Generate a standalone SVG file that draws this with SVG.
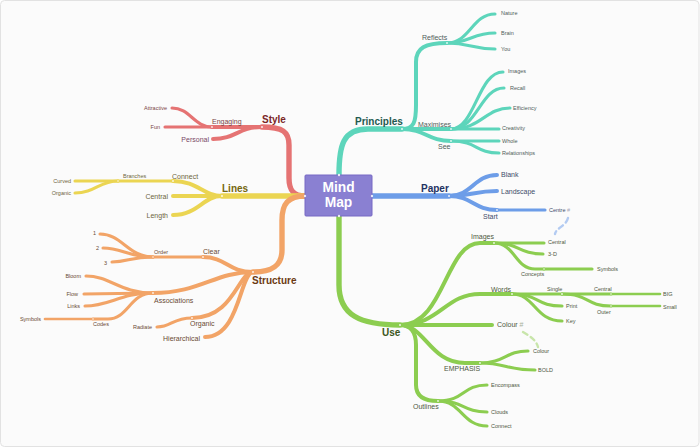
<svg xmlns="http://www.w3.org/2000/svg" width="700" height="448" viewBox="0 0 700 448">
<style>
.b{fill:none;stroke-linecap:round;stroke-linejoin:round}
.red{stroke:#e57373}.yel{stroke:#ebd552}.ora{stroke:#f2a467}.tea{stroke:#5dd5bb}.blu{stroke:#6d9de8}.grn{stroke:#8ccd50}
.l1{stroke-width:5.4}.l2{stroke-width:4}.l3{stroke-width:3.1}.l4{stroke-width:2.6}
.dash{fill:none;stroke-width:2.4;stroke-dasharray:5 4;stroke-linecap:round}
text{font-family:"Liberation Sans",Arial,sans-serif}
.m{font-size:10px;font-weight:bold}
.s{font-size:7px}
.t{font-size:5.5px}
.e{text-anchor:end}
.dot{fill:#ffffff;opacity:0.85}
</style>
<rect x="0.5" y="0.5" width="698.5" height="446" rx="4" fill="#fbfbfb" stroke="#e2e2e2"/>
<g id="connectors">
<!-- Style -->
<path class="b red l1" d="M305,196 C293,196 289,190 289,178 L289,145 C289,132 283,127 262,127"/>
<path class="b red l2" d="M262,127 L212,127"/>
<path class="b red l2" d="M262,127 C238,127 236,139 213,139"/>
<path class="b red l3" d="M212,127 C194,127 190,108 172,108"/>
<path class="b red l3" d="M212,127 L165,127"/>
<!-- Lines -->
<path class="b yel l1" d="M305,196 L222,196"/>
<path class="b yel l2" d="M222,196 C203,196 198,181 173,181"/>
<path class="b yel l2" d="M222,196 L173,196"/>
<path class="b yel l2" d="M222,196 C203,196 198,215 173,215"/>
<path class="b yel l3" d="M173,181 L118,181"/>
<path class="b yel l3" d="M118,181 L75,181"/>
<path class="b yel l3" d="M118,181 C99,181 95,193 75,193"/>
<!-- Structure -->
<path class="b ora l1" d="M305,196 C288,196 282,204 282,220 L282,250 C282,266 272,272 253,272"/>
<path class="b ora l2" d="M253,272 C228,272 226,257 203,257"/>
<path class="b ora l2" d="M253,272 C215,272 200,293 153,293"/>
<path class="b ora l2" d="M253,272 C238,272 234,318 192,318"/>
<path class="b ora l2" d="M253,272 C240,272 240,337 205,337"/>
<path class="b ora l3" d="M203,257 L153,257"/>
<path class="b ora l3" d="M153,257 C128,257 122,234 100,234"/>
<path class="b ora l3" d="M153,257 C128,257 122,248 103,248"/>
<path class="b ora l3" d="M153,257 C130,257 128,262 112,262"/>
<path class="b ora l3" d="M153,293 C120,293 110,276 86,276"/>
<path class="b ora l3" d="M153,293 L84,294"/>
<path class="b ora l3" d="M153,293 C120,293 110,306 85,306"/>
<path class="b ora l3" d="M153,293 C130,293 128,319 108,319 L93,319"/>
<path class="b ora l4" d="M93,319 L45,319"/>
<path class="b ora l3" d="M192,318 C172,318 172,327 157,327"/>
<!-- Principles -->
<path class="b tea l1" d="M339,175 C339,145 343,129 368,129 L402,129"/>
<path class="b tea l2" d="M402,129 C414,129 416,122 416,105 L416,62 C416,48 425,43 447,43"/>
<path class="b tea l2" d="M402,129 L451,129"/>
<path class="b tea l2" d="M402,129 C425,129 428,141 451,141"/>
<path class="b tea l3" d="M447,43 C470,43 472,14 495,14"/>
<path class="b tea l3" d="M447,43 C470,43 472,33 495,33"/>
<path class="b tea l3" d="M447,43 C470,43 472,49 495,49"/>
<path class="b tea l3" d="M451,129 C475,129 478,72 503,72"/>
<path class="b tea l3" d="M451,129 C478,129 480,88 504,88"/>
<path class="b tea l3" d="M451,129 C482,129 485,108 510,108"/>
<path class="b tea l3" d="M451,129 L499,129"/>
<path class="b tea l3" d="M451,141 L499,141"/>
<path class="b tea l3" d="M451,141 C478,141 475,153 499,153"/>
<!-- Paper -->
<path class="b blu l1" d="M372,196 L449,196"/>
<path class="b blu l2" d="M449,196 C472,196 474,175 497,175"/>
<path class="b blu l2" d="M449,196 C472,196 474,191 497,191"/>
<path class="b blu l2" d="M449,196 C472,196 474,210 497,210"/>
<path class="b blu l3" d="M497,210 L545,210"/>
<path class="dash" stroke="#b3cbf2" d="M568,218 C566,226 556,228 555,234"/>
<!-- Use -->
<path class="b grn l1" d="M339,216 L339,285 C339,315 360,325 400,325"/>
<path class="b grn l2" d="M400,325 C445,325 445,243 480,243 L494,243"/>
<path class="b grn l2" d="M400,325 C440,325 445,294 480,294 L512,294"/>
<path class="b grn l2" d="M400,325 L492,325"/>
<path class="b grn l2" d="M400,325 C425,325 430,363 465,363 L480,363"/>
<path class="b grn l2" d="M400,325 C410,325 416,332 416,345 L416,385 C416,396 424,401 438,401"/>
<path class="b grn l3" d="M494,243 L544,243"/>
<path class="b grn l3" d="M494,243 C520,243 518,254 543,254"/>
<path class="b grn l3" d="M494,243 C515,243 515,269 535,269 L544,269"/>
<path class="b grn l3" d="M544,269 L592,269"/>
<path class="b grn l3" d="M512,294 L562,294"/>
<path class="b grn l3" d="M512,294 C540,294 535,306 562,306"/>
<path class="b grn l3" d="M512,294 C535,294 535,321 562,321"/>
<path class="b grn l3" d="M562,294 L611,294"/>
<path class="b grn l3" d="M562,294 C590,294 585,306 611,306"/>
<path class="b grn l4" d="M611,294 L660,294"/>
<path class="b grn l4" d="M611,306 L660,306"/>
<path class="b grn l3" d="M480,363 C505,363 505,351 528,351"/>
<path class="b grn l3" d="M480,363 C505,363 508,370 535,370"/>
<path class="b grn l3" d="M438,401 C465,401 462,385 487,385"/>
<path class="b grn l3" d="M438,401 C465,401 462,412 487,412"/>
<path class="b grn l3" d="M438,401 C462,401 462,426 487,426"/>
<path class="dash" stroke="#c8e5aa" d="M523,332 C530,336 536,340 538,347"/>
<!-- junction markers -->
<circle class="dot" cx="262" cy="127" r="1"/><circle class="dot" cx="212" cy="127" r="0.9"/>
<circle class="dot" cx="222" cy="196" r="1"/><circle class="dot" cx="173" cy="181" r="0.9"/><circle class="dot" cx="118" cy="181" r="0.8"/>
<circle class="dot" cx="253" cy="272" r="1"/><circle class="dot" cx="203" cy="257" r="0.9"/><circle class="dot" cx="153" cy="257" r="0.8"/><circle class="dot" cx="153" cy="293" r="0.9"/><circle class="dot" cx="192" cy="318" r="0.9"/><circle class="dot" cx="93" cy="319" r="0.8"/>
<circle class="dot" cx="402" cy="129" r="1"/><circle class="dot" cx="447" cy="43" r="0.9"/><circle class="dot" cx="451" cy="129" r="0.9"/><circle class="dot" cx="451" cy="141" r="0.9"/>
<circle class="dot" cx="449" cy="196" r="1"/><circle class="dot" cx="497" cy="210" r="0.9"/>
<circle class="dot" cx="400" cy="325" r="1"/><circle class="dot" cx="494" cy="243" r="0.9"/><circle class="dot" cx="512" cy="294" r="0.9"/><circle class="dot" cx="562" cy="294" r="0.9"/><circle class="dot" cx="611" cy="294" r="0.8"/><circle class="dot" cx="611" cy="306" r="0.8"/><circle class="dot" cx="544" cy="269" r="0.8"/><circle class="dot" cx="480" cy="363" r="0.9"/><circle class="dot" cx="438" cy="401" r="0.9"/>
</g>
<g id="center">
<rect x="305" y="175" width="67" height="41" rx="1" fill="#8a80d2" stroke="#7668c4"/>
<text x="338.5" y="192" text-anchor="middle" font-size="13.8" font-weight="bold" fill="#ffffff">Mind</text>
<text x="338.5" y="206.5" text-anchor="middle" font-size="13.8" font-weight="bold" fill="#ffffff">Map</text>
<circle class="dot" cx="305" cy="196" r="1.2"/><circle class="dot" cx="339" cy="175" r="1.2"/><circle class="dot" cx="372" cy="196" r="1.2"/><circle class="dot" cx="339" cy="216" r="1.2"/>
</g>
<g id="style" fill="#7a4444">
<text class="m" x="262" y="122.5" fill="#7b2626">Style</text>
<text class="s" x="212" y="123.5">Engaging</text>
<text class="s e" x="209" y="141.5" fill="#7a4866">Personal</text>
<text class="t e" x="167" y="110">Attractive</text>
<text class="t e" x="160" y="129">Fun</text>
</g>
<g id="lines" fill="#6d6540">
<text class="m" x="222" y="191.5" fill="#75680e">Lines</text>
<text class="s" x="172" y="178.5">Connect</text>
<text class="s e" x="168" y="199">Central</text>
<text class="s e" x="168" y="217.5">Length</text>
<text class="t" x="123" y="178">Branches</text>
<text class="t e" x="71" y="183">Curved</text>
<text class="t e" x="71" y="195">Organic</text>
</g>
<g id="structure" fill="#6a4a34">
<text class="m" x="252" y="283.5" fill="#6b3a12">Structure</text>
<text class="s" x="203" y="253.5">Clear</text>
<text class="s" x="154" y="302.5">Associations</text>
<text class="s" x="190" y="326">Organic</text>
<text class="s e" x="200" y="340.5">Hierarchical</text>
<text class="t" x="154" y="253.5">Order</text>
<text class="t e" x="96" y="235">1</text>
<text class="t e" x="99" y="250">2</text>
<text class="t e" x="107" y="264.5">3</text>
<text class="t e" x="81" y="278">Bloom</text>
<text class="t e" x="78" y="296">Flow</text>
<text class="t e" x="80" y="308">Links</text>
<text class="t" x="93" y="326">Codes</text>
<text class="t e" x="41" y="320.5">Symbols</text>
<text class="t e" x="152" y="329">Radiate</text>
</g>
<g id="principles" fill="#4f5d5a">
<text class="m" x="355" y="125" fill="#1f5a50">Principles</text>
<text class="s" x="422" y="40">Reflects</text>
<text class="s" x="418" y="126.5">Maximises</text>
<text class="s" x="438" y="149">See</text>
<text class="t" x="501" y="14.7">Nature</text>
<text class="t" x="501" y="34.7">Brain</text>
<text class="t" x="501" y="51">You</text>
<text class="t" x="508" y="73">Images</text>
<text class="t" x="510" y="90">Recall</text>
<text class="t" x="513" y="110">Efficiency</text>
<text class="t" x="502" y="130">Creativity</text>
<text class="t" x="502" y="143">Whole</text>
<text class="t" x="502" y="155">Relationships</text>
</g>
<g id="paper" fill="#3f4c6a">
<text class="m" x="421" y="191.5" fill="#1f3262">Paper</text>
<text class="s" x="501" y="177">Blank</text>
<text class="s" x="501" y="193.5">Landscape</text>
<text class="s" x="483" y="218.5">Start</text>
<text class="t" x="549" y="212">Centre <tspan fill="#a8a8b8">#</tspan></text>
</g>
<g id="use" fill="#4e5842">
<text class="m" x="382" y="335.5" fill="#3b561c">Use</text>
<text class="s" x="471" y="238.5">Images</text>
<text class="s" x="491" y="291.5">Words</text>
<text class="s" x="497" y="326.5">Colour <tspan fill="#a8b09c">#</tspan></text>
<text class="s" x="444" y="371">EMPHASIS</text>
<text class="s" x="413" y="409">Outlines</text>
<text class="t" x="548" y="244">Central</text>
<text class="t" x="548" y="256">3-D</text>
<text class="t" x="521" y="276">Concepts</text>
<text class="t" x="597" y="271">Symbols</text>
<text class="t" x="547" y="291">Single</text>
<text class="t" x="566" y="308">Print</text>
<text class="t" x="566" y="323">Key</text>
<text class="t" x="594" y="291">Central</text>
<text class="t" x="597" y="313.5">Outer</text>
<text class="t" x="663" y="296">BIG</text>
<text class="t" x="663" y="308.5">Small</text>
<text class="t" x="533" y="353">Colour</text>
<text class="t" x="538" y="372">BOLD</text>
<text class="t" x="491" y="387">Encompass</text>
<text class="t" x="491" y="414">Clouds</text>
<text class="t" x="491" y="428">Connect</text>
</g>
</svg>
